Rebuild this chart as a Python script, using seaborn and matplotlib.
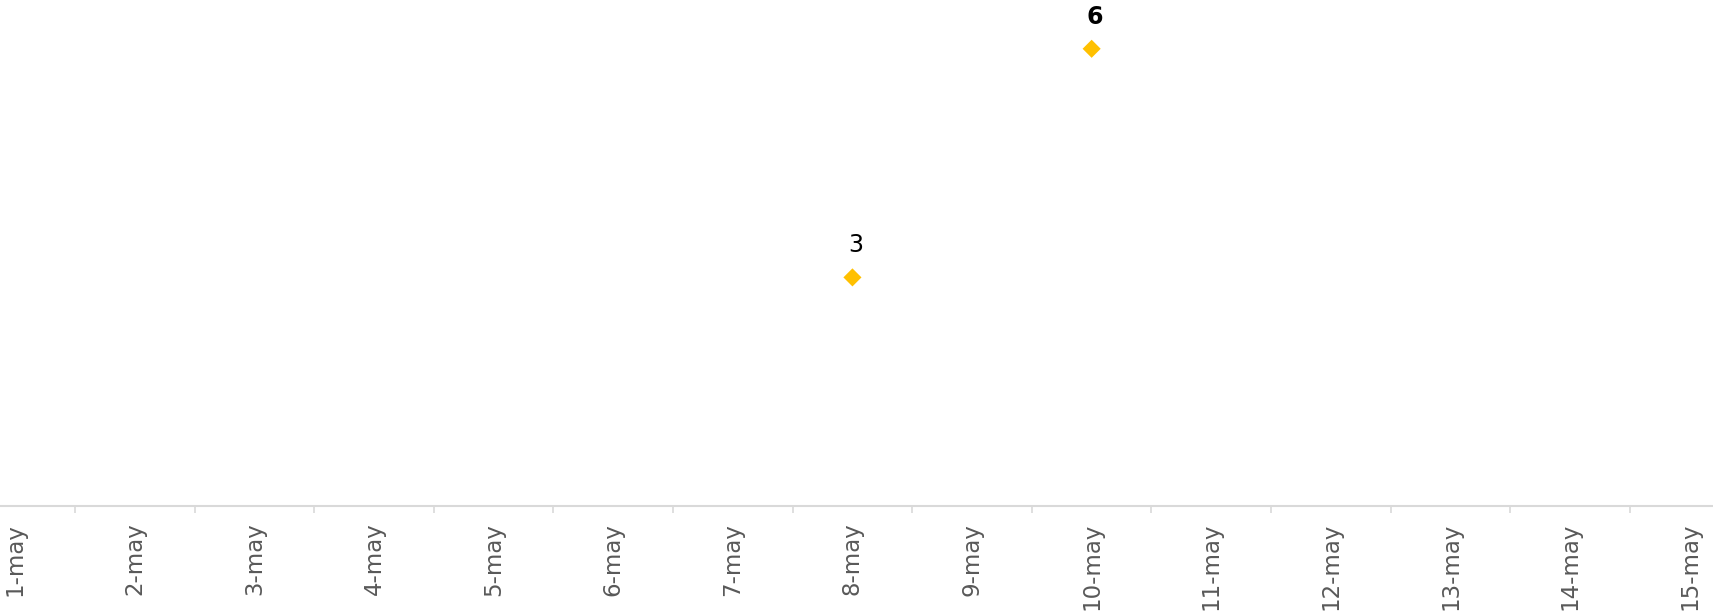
import matplotlib
matplotlib.use('Agg')
import matplotlib.pyplot as plt
import seaborn as sns
import numpy as np
import pandas as pd

dias = ['1-may', '2-may', '3-may', '4-may', '5-may', '6-may', '7-may', '8-may',
        '9-may', '10-may', '11-may', '12-may', '13-may', '14-may', '15-may']
valores = [np.nan, np.nan, np.nan, np.nan, np.nan, np.nan, np.nan, 3,
           np.nan, 6, np.nan, np.nan, np.nan, np.nan, np.nan]

sns.set_style('white')
plt.rcParams['font.family'] = ['DejaVu Sans']

df = pd.DataFrame({'pos': np.arange(len(dias)), 'valor': valores})

fig = plt.figure(figsize=(17.13, 6.15), dpi=100)
ax = fig.add_axes([0, 0.1772, 1, 0.8228])

sns.scatterplot(data=df, x='pos', y='valor', marker='D', s=85, color='#FFC000',
                edgecolor='none', ax=ax, zorder=3)

# etiquetas de datos, el maximo en negrita
vmax = np.nanmax(valores)
for i, v in enumerate(valores):
    if np.isnan(v):
        continue
    ax.annotate(f'{v:.0f}', (i, v), xytext=(2.5, 23), textcoords='offset points',
                ha='center', va='center', fontsize=17, color='black',
                fontweight='bold' if v == vmax else 'normal')

ax.set_xlim(-0.127, 14.195)
ax.set_ylim(0, 6.64)
ax.set_xticks(np.arange(len(dias)))
ax.set_xticklabels(dias, rotation=90, fontsize=16.5, color='#595959')
ax.set_xticks(np.arange(len(dias) - 1) + 0.5, minor=True)
ax.tick_params(axis='x', which='major', bottom=True, length=0, pad=12)
ax.tick_params(axis='x', which='minor', bottom=True, length=5, width=1.2, color='#d9d9d9')
ax.set_yticks([])
ax.set_xlabel('')
ax.set_ylabel('')
for lado in ['top', 'right', 'left']:
    ax.spines[lado].set_visible(False)
ax.spines['bottom'].set_color('#d9d9d9')
ax.spines['bottom'].set_linewidth(1.5)

fig.savefig('out.png', dpi=100)
